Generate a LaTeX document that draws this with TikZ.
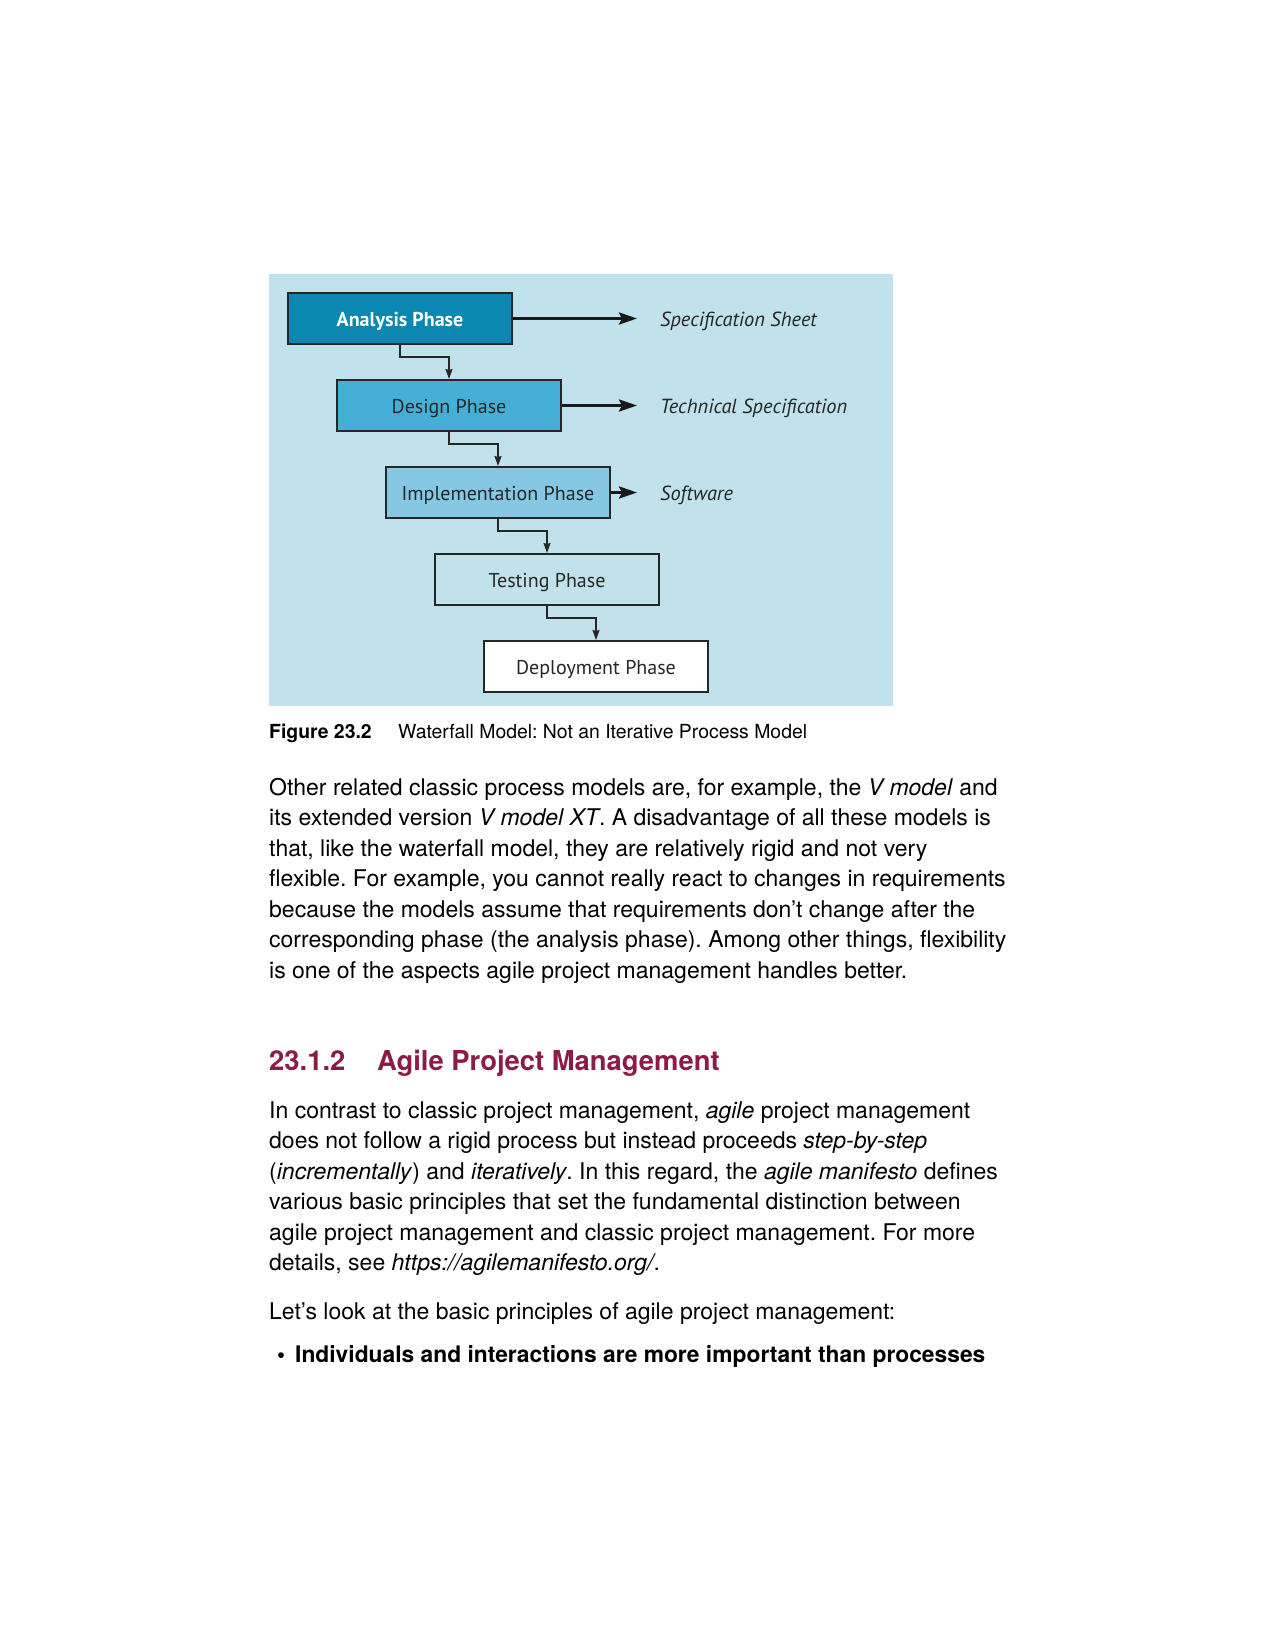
\documentclass[tikz,border=0pt]{standalone}
\usepackage{fontspec}
\setmainfont{TeX Gyre Heros}
\newfontfamily\diagfont{PT Sans}
\usetikzlibrary{arrows.meta}
\definecolor{bgblue}{RGB}{193,225,236}
\definecolor{boxA}{RGB}{11,135,178}
\definecolor{boxD}{RGB}{69,175,214}
\definecolor{boxI}{RGB}{134,199,227}
\definecolor{edge}{RGB}{38,38,38}
\definecolor{maroon}{RGB}{140,28,68}
\tikzset{
  phase/.style={draw=edge, line width=2pt, minimum width=224pt, minimum height=51pt, inner sep=0pt,
    text height=16pt, text depth=0pt,
    font=\diagfont\fontsize{20}{24}\selectfont, text=edge},
  outlabel/.style={anchor=base west, inner sep=0pt, font=\diagfont\itshape\fontsize{20.4}{24}\selectfont, text=edge},
  bigarrow/.style={draw=black!90, line width=3pt, -{Stealth[length=18pt,width=12pt,inset=3pt]}},
  conn/.style={draw=edge, line width=1.5pt, -{Stealth[length=10pt,width=7pt,inset=1pt]}},
  bodytext/.style={anchor=base west, inner sep=0pt},
}
\begin{document}
\frenchspacing
\begin{tikzpicture}[x=1pt,y=-1pt]
\useasboundingbox (0,0) rectangle (1275,1649);
\fill[white] (0,0) rectangle (1275,1649);
% diagram background
\fill[bgblue] (269,274) rectangle (893,706);
% phases
\node[phase, fill=boxA, text=white, font=\diagfont\bfseries\fontsize{20}{24}\selectfont] (ana) at (400,318.5) {Analysis Phase};
\node[phase, fill=boxD] (des) at (449,405.5) {Design Phase};
\node[phase, fill=boxI] (imp) at (498,492.5) {Implementation Phase};
\node[phase, fill=bgblue] (tes) at (547,579.5) {Testing Phase};
\node[phase, fill=white] (dep) at (596,666.5) {Deployment Phase};
% outputs
\node[outlabel] (spec) at (660,326.5) {Specification Sheet};
\node[outlabel] (tech) at (660,413.5) {Technical Specification};
\node[outlabel] (soft) at (660,500.5) {Software};
\draw[bigarrow] (ana.east) -- ([xshift=-23pt]ana.east -| spec.west);
\draw[bigarrow] (des.east) -- ([xshift=-23pt]des.east -| tech.west);
\draw[bigarrow] (imp.east) -- ([xshift=-23pt]imp.east -| soft.west);
% connectors
\draw[conn] (ana.south) -- ++(0,12) -| (des.north);
\draw[conn] (des.south) -- ++(0,12) -| (imp.north);
\draw[conn] (imp.south) -- ++(0,12) -| (tes.north);
\draw[conn] (tes.south) -- ++(0,12) -| (dep.north);
% caption
\node[bodytext, font=\bfseries\fontsize{19.4}{22}\selectfont] (capnum) at (269,738) {Figure 23.2};
\node[bodytext, font=\fontsize{19.4}{22}\selectfont] (captext) at (398,738) {Waterfall Model: Not an Iterative Process Model};
% paragraph 1
\node[bodytext] (para1) at (269,795) {\parbox[t]{900pt}{\fontsize{23}{30.5}\selectfont\raggedright
Other related classic process models are, for example, the \textit{V model} and\\
its extended version \textit{V model XT}. A disadvantage of all these models is\\
that, like the waterfall model, they are relatively rigid and not very\\
flexible. For example, you cannot really react to changes in requirements\\
because the models assume that requirements don’t change after the\\
corresponding phase (the analysis phase). Among other things, flexibility\\
is one of the aspects agile project management handles better.}};
% heading
\node[bodytext, font=\bfseries\fontsize{27.4}{32}\selectfont, text=maroon] (hnum) at (269,1070) {23.1.2};
\node[bodytext, font=\bfseries\fontsize{27.4}{32}\selectfont, text=maroon] (htext) at (377,1070) {Agile Project Management};
% paragraph 2
\node[bodytext] (para2) at (269,1118) {\parbox[t]{900pt}{\fontsize{23}{30.5}\selectfont\raggedright
In contrast to classic project management, \textit{agile} project management\\
does not follow a rigid process but instead proceeds \textit{step-by-step}\\
(\textit{incrementally}) and \textit{iteratively}. In this regard, the \textit{agile manifesto} defines\\
various basic principles that set the fundamental distinction between\\
agile project management and classic project management. For more\\
details, see \textit{https://agilemanifesto.org/}.}};
\node[bodytext, font=\fontsize{23}{30.5}\selectfont] (para3) at (269,1319) {Let’s look at the basic principles of agile project management:};
\node[bodytext, font=\bfseries\fontsize{22.8}{30.5}\selectfont] (bul) at (277,1362) {•};
\node[bodytext, font=\bfseries\fontsize{22.8}{30.5}\selectfont] (item1) at (295,1362) {Individuals and interactions are more important than processes};
\end{tikzpicture}
\end{document}
